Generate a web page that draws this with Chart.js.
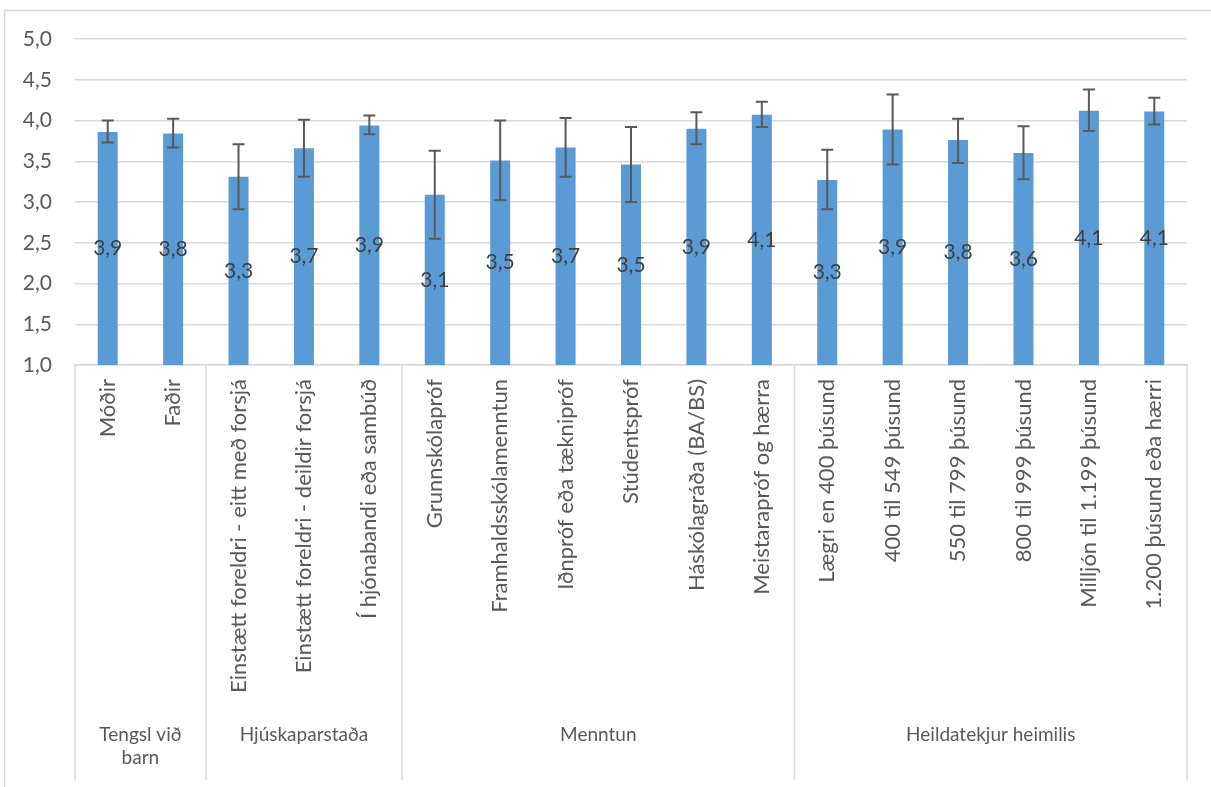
<!DOCTYPE html>
<html>
<head>
<meta charset="utf-8">
<script src="https://cdn.jsdelivr.net/npm/chart.js@4"></script>
<style>
  html, body { margin: 0; padding: 0; background: #fff; }
  #wrap { width: 1211px; height: 787px; }
</style>
</head>
<body>
<div id="wrap"><canvas id="chart" width="1211" height="787"></canvas></div>
<script>
// categories and their groups
const categories = [
  'Móðir', 'Faðir',
  'Einstætt foreldri - eitt með forsjá', 'Einstætt foreldri - deildir forsjá', 'Í hjónabandi eða sambúð',
  'Grunnskólapróf', 'Framhaldsskólamenntun', 'Iðnpróf eða tæknipróf', 'Stúdentspróf', 'Háskólagráða (BA/BS)', 'Meistarapróf og hærra',
  'Lægri en 400 þúsund', '400 til 549 þúsund', '550 til 799 þúsund', '800 til 999 þúsund', 'Milljón til 1.199 þúsund', '1.200 þúsund eða hærri'
];
const groupNames = [['Tengsl við', 'barn'], ['Hjúskaparstaða'], ['Menntun'], ['Heildatekjur heimilis']];
const groupSizes = [2, 3, 6, 6];

// mean values and error bar ends
const means = [3.86, 3.84, 3.31, 3.66, 3.94, 3.09, 3.51, 3.67, 3.46, 3.90, 4.07, 3.27, 3.89, 3.76, 3.60, 4.12, 4.11];
const errHigh = [4.00, 4.02, 3.71, 4.01, 4.06, 3.63, 4.00, 4.03, 3.92, 4.10, 4.23, 3.64, 4.32, 4.02, 3.93, 4.38, 4.28];
const errLow = [3.73, 3.67, 2.91, 3.31, 3.83, 2.55, 3.02, 3.31, 3.00, 3.71, 3.92, 2.91, 3.46, 3.48, 3.28, 3.87, 3.95];

const yTicks = [1, 1.5, 2, 2.5, 3, 3.5, 4, 4.5, 5];

const FONT = 'Lato, "Open Sans", sans-serif';
const comma = v => v.toFixed(1).replace('.', ',');

// outer frame, error bars, value labels and the group level of the x axis
const extras = {
  id: 'extras',
  beforeDraw(chart) {
    const ctx = chart.ctx;
    ctx.save();
    ctx.fillStyle = '#fff';
    ctx.fillRect(0, 0, chart.width, chart.height);
    ctx.strokeStyle = '#d9d9d9';
    ctx.lineWidth = 1.5;
    ctx.strokeRect(4.5, 10.5, chart.width + 20, chart.height + 20);
    ctx.restore();
  },
  afterDatasetsDraw(chart) {
    const ctx = chart.ctx;
    const x = chart.scales.x, y = chart.scales.y;
    const meta = chart.getDatasetMeta(0);
    ctx.save();
    // error bars
    ctx.strokeStyle = '#595959';
    ctx.lineWidth = 2;
    meta.data.forEach((bar, i) => {
      const cx = bar.x;
      const top = y.getPixelForValue(errHigh[i]);
      const bot = y.getPixelForValue(errLow[i]);
      ctx.beginPath();
      ctx.moveTo(cx, top); ctx.lineTo(cx, bot);
      ctx.moveTo(cx - 6, top); ctx.lineTo(cx + 6, top);
      ctx.moveTo(cx - 6, bot); ctx.lineTo(cx + 6, bot);
      ctx.stroke();
    });
    // value labels in the middle of each bar
    ctx.fillStyle = '#404040';
    ctx.font = '21px ' + FONT;
    ctx.textAlign = 'center';
    ctx.textBaseline = 'middle';
    meta.data.forEach((bar, i) => {
      const mid = y.getPixelForValue((y.min + means[i]) / 2);
      ctx.fillText(comma(means[i]), bar.x, mid);
    });
    // group separators and names
    const bottom = y.bottom;
    const lineEnd = 780;
    const half = (x.getPixelForValue(1) - x.getPixelForValue(0)) / 2;
    ctx.strokeStyle = '#d9d9d9';
    ctx.lineWidth = 1.5;
    let start = 0;
    const edges = [x.left];
    groupSizes.forEach(n => { start += n; edges.push(x.getPixelForValue(start - 1) + half); });
    edges.forEach(ex => {
      ctx.beginPath();
      ctx.moveTo(ex, bottom); ctx.lineTo(ex, lineEnd);
      ctx.stroke();
    });
    ctx.fillStyle = '#595959';
    ctx.font = '19px ' + FONT;
    groupNames.forEach((lines, g) => {
      const cx = (edges[g] + edges[g + 1]) / 2;
      lines.forEach((t, k) => ctx.fillText(t, cx, 735 + k * 23));
    });
    ctx.restore();
  }
};

new Chart(document.getElementById('chart'), {
  type: 'bar',
  data: {
    labels: categories,
    datasets: [{
      data: means,
      backgroundColor: '#5b9bd5',
      categoryPercentage: 1,
      barPercentage: 0.306
    }]
  },
  options: {
    responsive: false,
    animation: false,
    layout: { padding: { left: 0, top: 39, right: 24, bottom: 0 } },
    plugins: { legend: { display: false }, tooltip: { enabled: false } },
    scales: {
      y: {
        min: 1, max: 5,
        afterBuildTicks: s => { s.ticks = yTicks.map(v => ({ value: v })); },
        afterFit: s => { s.width = 75; },
        border: { display: false },
        grid: { color: '#d9d9d9', lineWidth: 1.5, drawTicks: false },
        ticks: {
          color: '#595959',
          font: { size: 21, family: FONT },
          padding: 23,
          callback: v => comma(v)
        }
      },
      x: {
        afterFit: s => { s.height = 422; },
        border: { display: true, color: '#d9d9d9', width: 1.5 },
        grid: { display: true, drawOnChartArea: false, drawTicks: false },
        ticks: {
          color: '#595959',
          font: { size: 22, family: FONT },
          maxRotation: 90, minRotation: 90,
          autoSkip: false,
          padding: 14
        }
      }
    }
  },
  plugins: [extras]
});
</script>
</body>
</html>
